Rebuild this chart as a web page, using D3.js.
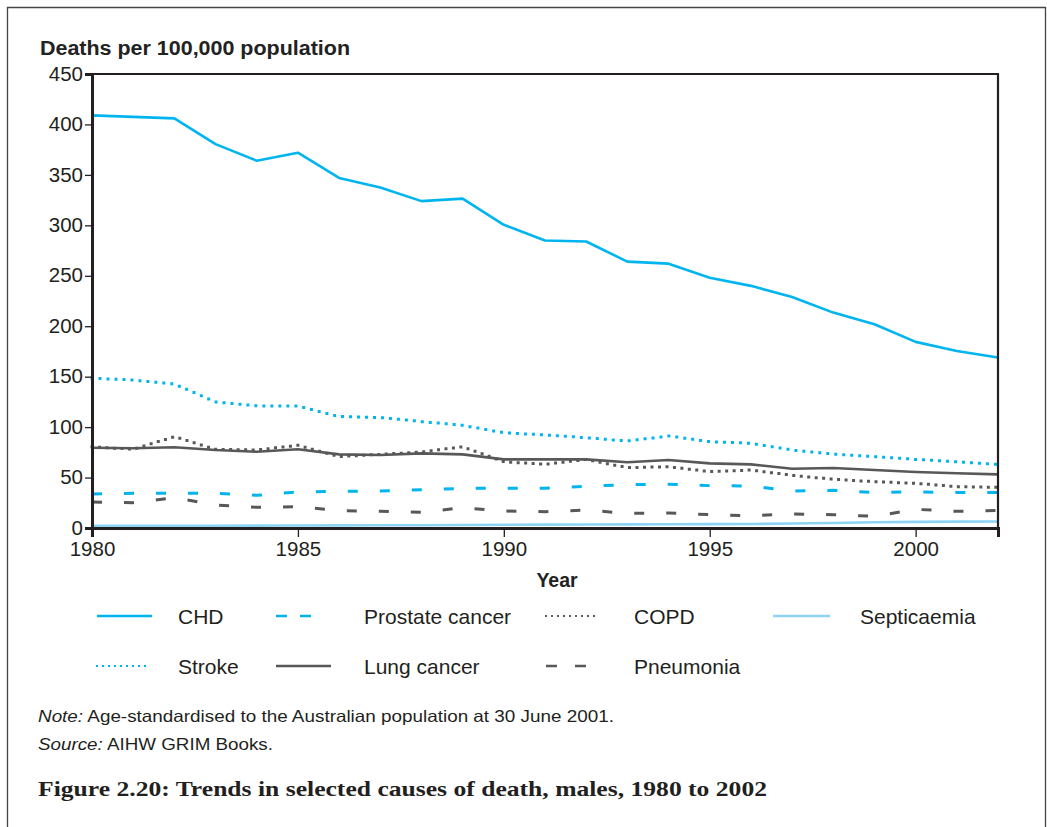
<!DOCTYPE html>
<html>
<head>
<meta charset="utf-8">
<script src="https://cdn.jsdelivr.net/npm/d3@7/dist/d3.min.js"></script>
<style>
  html, body { margin: 0; padding: 0; background: #fff; }
  svg { display: block; }
</style>
</head>
<body>
<svg id="chart" width="1047" height="827"></svg>
<script>
const years = d3.range(1980, 2003);
const chd = [409, 407.5, 406, 380.5, 364, 372, 347, 337.5, 324, 326.5, 300.5, 285, 284, 264, 262, 248, 240, 229, 213.5, 202, 184.5, 175.5, 169];
const stroke = [148.5, 146.7, 142.7, 125, 121, 121, 110.5, 109.5, 105.5, 101.7, 94.4, 92.2, 89.5, 86.2, 91.2, 85.6, 84, 77.3, 73.3, 70.7, 68, 65.7, 63.1];
const copd = [80.5, 78, 90.5, 78, 77.3, 82, 70.7, 73, 75.3, 80.6, 65.7, 63.1, 68, 59.8, 60.8, 55.8, 57.5, 52.2, 48.3, 45.9, 44.3, 40.9, 40.3];
const lung = [79.6, 79, 80, 77.3, 75.6, 78, 73, 72.3, 74, 73, 68, 68, 68, 65.1, 67.4, 64.1, 63.1, 58.8, 59.5, 57.5, 55.5, 54.2, 53.2];
const prostate = [33.7, 34.4, 34.4, 34.4, 32.4, 35.7, 36.4, 36.7, 38, 39.3, 39.3, 39.3, 41.3, 43, 43.3, 42, 41.6, 36.7, 37.3, 35.3, 35.7, 35.3, 35.3];
const pneumonia = [25.8, 25.1, 30, 22.8, 20.5, 21.1, 17.2, 16.5, 15.5, 20.1, 16.8, 16.2, 17.8, 14.5, 14.9, 13.2, 12.2, 13.9, 13.2, 11.6, 18.5, 16.5, 17.5];
const septicaemia = [2.2, 2.2, 2.3, 2.3, 2.4, 2.5, 2.6, 2.7, 2.8, 3.0, 3.2, 3.3, 3.4, 3.6, 3.7, 3.8, 4.0, 4.4, 5.0, 5.7, 6.1, 6.3, 6.4];
const yTicks = [0, 50, 100, 150, 200, 250, 300, 350, 400, 450];
const xTicks = [1980, 1985, 1990, 1995, 2000];

const CYAN = "#00b5ef", DARK = "#58585a", LIGHT = "#8dd3f3";
const SANS = "Liberation Sans, Arial, sans-serif";
const series = [
  {name: "Septicaemia", values: septicaemia, color: LIGHT, dash: null, width: 2.6, cap: "butt", legDash: null, legLen: 57},
  {name: "Pneumonia", values: pneumonia, color: DARK, dash: "10,22", width: 3, cap: "butt", legDash: "11,18", legLen: 40},
  {name: "Prostate cancer", values: prostate, color: CYAN, dash: "10,22", width: 3, cap: "butt", legDash: "11,13", legLen: 35},
  {name: "Lung cancer", values: lung, color: DARK, dash: null, width: 2.6, cap: "butt", legDash: null, legLen: 55},
  {name: "COPD", values: copd, color: DARK, dash: "0,7.5", width: 3, cap: "square", legDash: "0,6", legLen: 54},
  {name: "Stroke", values: stroke, color: CYAN, dash: "0,8", width: 3, cap: "square", legDash: "0,6", legLen: 53},
  {name: "CHD", values: chd, color: CYAN, dash: null, width: 2.6, cap: "butt", legDash: null, legLen: 55}
];

const svg = d3.select("#chart");
const pLeft = 92, pRight = 998, pTop = 74, pBottom = 528;
const x = d3.scaleLinear().domain([1980, 2002]).range([pLeft, pRight]);
const y = d3.scaleLinear().domain([0, 450]).range([pBottom, pTop]);

// outer frame
svg.append("path").attr("d", `M7.5,830 V7.5 H1045.5 V830`).attr("fill", "none").attr("stroke", "#444").attr("stroke-width", 1.3);

// y axis title
svg.append("text").attr("x", 40).attr("y", 55).attr("font-family", SANS)
  .attr("font-weight", "bold").attr("font-size", 19.5).attr("fill", "#222")
  .attr("textLength", 310).attr("lengthAdjust", "spacingAndGlyphs")
  .text("Deaths per 100,000 population");

// lines
const line = d3.line().x((d, i) => x(years[i])).y(d => y(d));
const g = svg.append("g");
series.forEach(s => {
  g.append("path").datum(s.values).attr("d", line).attr("fill", "none")
    .attr("stroke", s.color).attr("stroke-width", s.width)
    .attr("stroke-dasharray", s.dash).attr("stroke-linecap", s.cap).attr("stroke-linejoin", "round");
});

// frame top and right
svg.append("path").attr("d", `M${pLeft},${pTop} H${pRight} V${pBottom}`).attr("fill", "none").attr("stroke", "#231f20").attr("stroke-width", 2.2);

// axes
const yAxis = d3.axisLeft(y).tickValues(yTicks).tickSize(7).tickPadding(2);
const ya = svg.append("g").attr("transform", `translate(${pLeft},0)`).call(yAxis);
ya.select(".domain").attr("stroke", "#231f20").attr("stroke-width", 3);
ya.selectAll(".tick line").attr("stroke", "#231f20").attr("stroke-width", 1.3);
ya.selectAll(".tick text").attr("font-family", SANS).attr("font-size", 20.5).attr("fill", "#231f20").attr("dy", "0.3em");

const xAxis = d3.axisBottom(x).tickValues(xTicks).tickFormat(d3.format("d")).tickSize(9).tickPadding(4);
const xa = svg.append("g").attr("transform", `translate(0,${pBottom})`).call(xAxis);
xa.select(".domain").attr("stroke", "#231f20").attr("stroke-width", 3);
xa.selectAll(".tick line").attr("stroke", "#231f20").attr("stroke-width", 1.3);
xa.selectAll(".tick text").attr("font-family", SANS).attr("font-size", 20.5).attr("fill", "#231f20");

svg.append("text").attr("x", 557).attr("y", 587).attr("text-anchor", "middle")
  .attr("font-family", SANS).attr("font-weight", "bold").attr("font-size", 19.5).attr("fill", "#222").text("Year");

// legend
const legendItems = [
  {name: "CHD", col: 0, row: 0},
  {name: "Prostate cancer", col: 1, row: 0},
  {name: "COPD", col: 2, row: 0},
  {name: "Septicaemia", col: 3, row: 0},
  {name: "Stroke", col: 0, row: 1},
  {name: "Lung cancer", col: 1, row: 1},
  {name: "Pneumonia", col: 2, row: 1}
];
const colX = [97, 276, 546, 773];
const textX = [178, 364, 634, 860];
const rowY = [616, 666];
legendItems.forEach(it => {
  const s = series.find(d => d.name === it.name);
  const x0 = colX[it.col], yy = rowY[it.row];
  svg.append("line").attr("x1", x0).attr("x2", x0 + s.legLen).attr("y1", yy).attr("y2", yy)
    .attr("stroke", s.color).attr("stroke-width", s.cap === "square" ? 2 : 2.6)
    .attr("stroke-dasharray", s.legDash).attr("stroke-linecap", s.cap);
  svg.append("text").attr("x", textX[it.col]).attr("y", yy + 7.5)
    .attr("font-family", SANS).attr("font-size", 21).attr("fill", "#231f20").text(it.name);
});

// notes
const note = svg.append("text").attr("x", 38).attr("y", 722).attr("font-family", SANS).attr("font-size", 16.5).attr("fill", "#231f20")
  .attr("textLength", 576).attr("lengthAdjust", "spacingAndGlyphs");
note.append("tspan").attr("font-style", "italic").text("Note:");
note.append("tspan").text(" Age-standardised to the Australian population at 30 June 2001.");
const src = svg.append("text").attr("x", 38).attr("y", 750).attr("font-family", SANS).attr("font-size", 16.5).attr("fill", "#231f20")
  .attr("textLength", 235).attr("lengthAdjust", "spacingAndGlyphs");
src.append("tspan").attr("font-style", "italic").text("Source:");
src.append("tspan").text(" AIHW GRIM Books.");

svg.append("text").attr("x", 38).attr("y", 796).attr("font-family", "Liberation Serif, Times New Roman, serif")
  .attr("font-weight", "bold").attr("font-size", 22).attr("fill", "#231f20")
  .attr("textLength", 729).attr("lengthAdjust", "spacingAndGlyphs")
  .text("Figure 2.20: Trends in selected causes of death, males, 1980 to 2002");
</script>
</body>
</html>
